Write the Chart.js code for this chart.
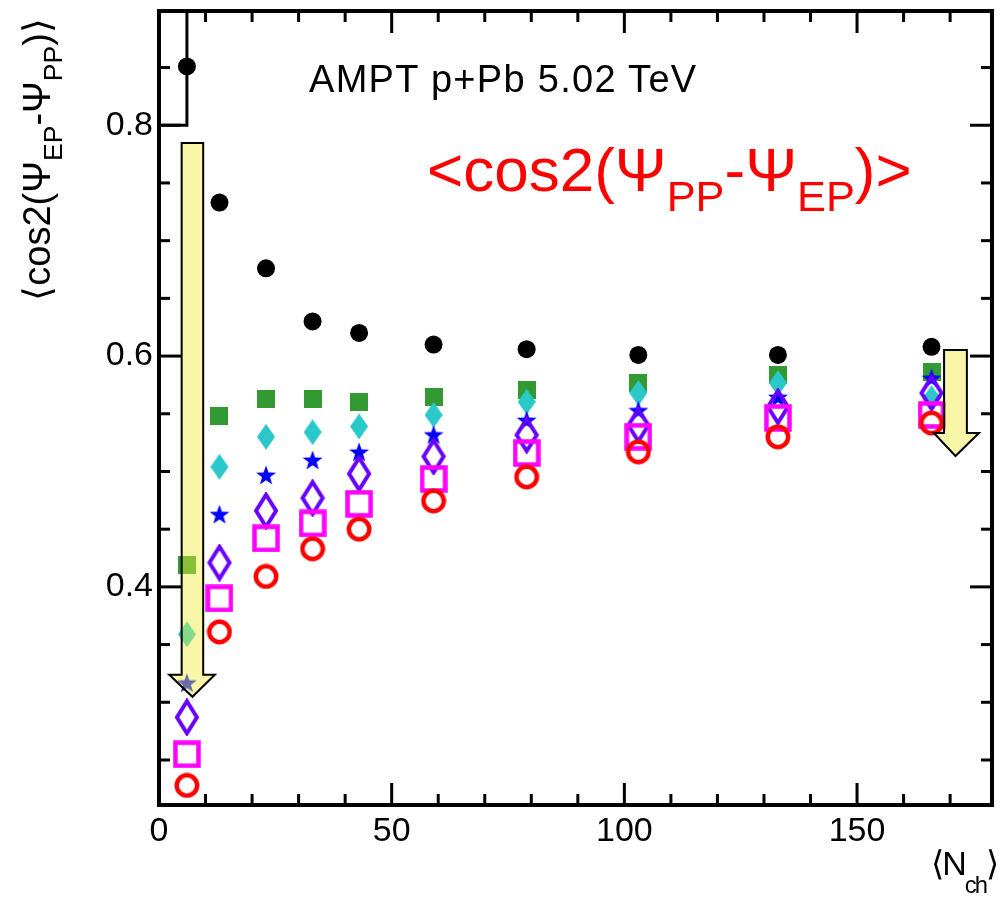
<!DOCTYPE html>
<html>
<head>
<meta charset="utf-8">
<script src="https://cdn.jsdelivr.net/npm/chart.js@4.4.0/dist/chart.umd.min.js"></script>
<style>
  html, body { margin: 0; padding: 0; background: #fff; }
  #wrap { position: relative; width: 1006px; height: 908px; font-family: 'Liberation Sans', Arial, sans-serif; }
  #myChart { position: absolute; left: 0; top: 0; }
  .lbl { position: absolute; white-space: nowrap; line-height: 1; color: #000; }
  .lbl sub { font-size: 0.7em; vertical-align: -0.45em; line-height: 0; }
  #xtitle sub { vertical-align: -0.75em; }
</style>
</head>
<body>
<div id="wrap">
  <canvas id="myChart" width="1006" height="908"></canvas>
  <div class="lbl" style="left:309px; top:60px; font-size:38px; letter-spacing:1.3px;">AMPT p+Pb 5.02 TeV</div>
  <div class="lbl" style="left:427px; top:139px; font-size:62px; color:#ff0000;">&lt;cos2(&Psi;<sub>PP</sub>-&Psi;<sub>EP</sub>)&gt;</div>
  <div class="lbl" style="left:18px; top:418px; width:400px; height:40px; text-align:right; font-size:38px; transform:rotate(-90deg); transform-origin:0 0;">&#10216;cos2(&Psi;<sub>EP</sub>-&Psi;<sub>PP</sub>)&#10217;</div>
  <div class="lbl" id="xtitle" style="left:797px; top:846px; width:200px; text-align:right; font-size:34px; letter-spacing:-2px;">&#10216;N<sub>ch</sub>&#10217;</div>
</div>
<script>
// mean multiplicity of each bin
const nch = [6, 13, 23, 33, 43, 59, 79, 103, 133, 166];

// <cos2(Psi_EP - Psi_PP)> for the different selections
const blackDots = [0.851, 0.733, 0.676, 0.630, 0.620, 0.610, 0.606, 0.601, 0.601, 0.608];
const greenSquares = [0.419, 0.548, 0.563, 0.563, 0.560, 0.5645, 0.5706, 0.5766, 0.5835, 0.586];
const cyanDiamonds = [0.359, 0.504, 0.530, 0.534, 0.539, 0.549, 0.5604, 0.568, 0.5766, 0.5636];
const blueStars = [0.317, 0.463, 0.497, 0.510, 0.517, 0.532, 0.5446, 0.553, 0.5645, 0.581];
const purpleDiamonds = [0.287, 0.421, 0.466, 0.477, 0.498, 0.513, 0.5316, 0.540, 0.556, 0.568];
const magentaSquares = [0.255, 0.390, 0.442, 0.455, 0.472, 0.4935, 0.516, 0.530, 0.5463, 0.549];
const redCircles = [0.228, 0.361, 0.409, 0.433, 0.450, 0.4745, 0.4953, 0.517, 0.530, 0.542];

// outline that runs off the top of the frame for the first black point
const edgeX = [0, 6, 6];
const edgeY = [0.8, 0.8, 0.9];

const xTickLabels = [0, 50, 100, 150];
const yTickLabels = [0.4, 0.6, 0.8];

// yellow arrows, in data units
const arrows = [
  { x0: 4.87, x1: 9.5, top: 0.7847, neck: 0.3238, hx0: 2.2, hx1: 12.0, tip: 0.3048 },
  { x0: 168.7, x1: 173.6, top: 0.6052, neck: 0.5333, hx0: 166.5, hx1: 176.2, tip: 0.5134 }
];

const toXY = ys => nch.map((x, i) => ({ x: x, y: ys[i] }));

function marker(w, h, draw) {
  const c = document.createElement('canvas');
  c.width = w;
  c.height = h;
  draw(c.getContext('2d'), w, h);
  return c;
}

const mGreen = marker(18, 18, (g, w, h) => {
  g.fillStyle = 'rgb(51,153,51)';
  g.fillRect(0, 0, w, h);
});
const mCyan = marker(18, 26, (g, w, h) => {
  g.fillStyle = 'rgb(42,200,200)';
  g.beginPath();
  g.moveTo(w / 2, 0); g.lineTo(w, h / 2); g.lineTo(w / 2, h); g.lineTo(0, h / 2);
  g.closePath();
  g.fill();
});
const mStar = marker(22, 22, (g, w, h) => {
  g.fillStyle = '#0000ff';
  g.beginPath();
  for (let i = 0; i < 10; i++) {
    const r = i % 2 === 0 ? 10.5 : 4.2;
    const a = -Math.PI / 2 + i * Math.PI / 5;
    const px = w / 2 + r * Math.cos(a);
    const py = h / 2 + 1 + r * Math.sin(a);
    if (i === 0) g.moveTo(px, py); else g.lineTo(px, py);
  }
  g.closePath();
  g.fill();
});
const mPurple = marker(26, 38, (g, w, h) => {
  g.strokeStyle = 'rgb(102,0,255)';
  g.lineWidth = 4;
  g.lineJoin = 'miter';
  g.beginPath();
  g.moveTo(w / 2, 3); g.lineTo(w - 3, h / 2); g.lineTo(w / 2, h - 3); g.lineTo(3, h / 2);
  g.closePath();
  g.stroke();
});
const mMagenta = marker(28, 28, (g, w, h) => {
  g.strokeStyle = '#ff00ff';
  g.lineWidth = 4.5;
  g.strokeRect(2.5, 2.5, w - 5, h - 5);
});
const mRed = marker(26, 26, (g, w, h) => {
  g.strokeStyle = '#ff0000';
  g.lineWidth = 4.5;
  g.beginPath();
  g.arc(w / 2, h / 2, 10.2, 0, Math.PI * 2);
  g.stroke();
});

const arrowPlugin = {
  id: 'arrowPlugin',
  afterDatasetsDraw(chart) {
    const { ctx, scales: { x, y } } = chart;
    ctx.save();
    arrows.forEach(a => {
      const cx = x.getPixelForValue((a.x0 + a.x1) / 2);
      ctx.beginPath();
      ctx.moveTo(x.getPixelForValue(a.x0), y.getPixelForValue(a.top));
      ctx.lineTo(x.getPixelForValue(a.x1), y.getPixelForValue(a.top));
      ctx.lineTo(x.getPixelForValue(a.x1), y.getPixelForValue(a.neck));
      ctx.lineTo(x.getPixelForValue(a.hx1), y.getPixelForValue(a.neck));
      ctx.lineTo(cx, y.getPixelForValue(a.tip));
      ctx.lineTo(x.getPixelForValue(a.hx0), y.getPixelForValue(a.neck));
      ctx.lineTo(x.getPixelForValue(a.x0), y.getPixelForValue(a.neck));
      ctx.closePath();
      ctx.fillStyle = 'rgba(238,238,60,0.45)';
      ctx.fill();
      ctx.strokeStyle = '#000';
      ctx.lineWidth = 2;
      ctx.stroke();
    });
    ctx.restore();
  }
};

// frame with inward ticks on all four sides, like the ROOT original
const framePlugin = {
  id: 'framePlugin',
  afterDraw(chart) {
    const { ctx, chartArea: a, scales: { x, y } } = chart;
    ctx.save();
    ctx.strokeStyle = '#000';
    ctx.lineWidth = 3;
    const seg = (x1, y1, x2, y2) => {
      ctx.beginPath();
      ctx.moveTo(x1, y1);
      ctx.lineTo(x2, y2);
      ctx.stroke();
    };
    for (let v = 10; v < x.max; v += 10) {
      const px = x.getPixelForValue(v);
      const len = v % 50 === 0 ? 22 : 11;
      seg(px, a.bottom, px, a.bottom - len);
      seg(px, a.top, px, a.top + len);
    }
    for (let i = 5; i <= 17; i++) {
      const v = i * 0.05;
      const py = y.getPixelForValue(v);
      const len = i % 4 === 0 ? 22 : 11;
      seg(a.left, py, a.left + len, py);
      seg(a.right, py, a.right - len, py);
    }
    ctx.lineWidth = 4;
    ctx.strokeRect(a.left, a.top, a.right - a.left, a.bottom - a.top);
    ctx.restore();
  }
};

const pointSet = (label, ys, style, order) => ({
  type: 'scatter',
  label: label,
  data: toXY(ys),
  pointStyle: style,
  pointRadius: 10,
  order: order
});

const tickFont = { family: "'Liberation Sans', Arial, sans-serif", size: 34 };

// fixed axis sizes, no extra label padding, so the frame sits where the original's does
const fixX = s => { s.height = 103; s.paddingLeft = 0; s.paddingRight = 0; };
const fixY = s => { s.width = 159; s.paddingTop = 0; s.paddingBottom = 0; };

const ctx = document.getElementById('myChart').getContext('2d');
const myChart = new Chart(ctx, {
  type: 'scatter',
  data: {
    datasets: [
      {
        type: 'line',
        label: 'edge',
        data: edgeX.map((x, i) => ({ x: x, y: edgeY[i] })),
        borderColor: '#000',
        borderWidth: 3,
        pointRadius: 0,
        fill: false,
        order: 8
      },
      {
        type: 'scatter',
        label: 'black',
        data: toXY(blackDots),
        pointStyle: 'circle',
        pointRadius: 9,
        backgroundColor: '#000',
        borderWidth: 0,
        order: 7
      },
      pointSet('green', greenSquares, mGreen, 6),
      pointSet('cyan', cyanDiamonds, mCyan, 5),
      pointSet('star', blueStars, mStar, 4),
      pointSet('purple', purpleDiamonds, mPurple, 3),
      pointSet('magenta', magentaSquares, mMagenta, 2),
      pointSet('red', redCircles, mRed, 1)
    ]
  },
  options: {
    responsive: false,
    animation: false,
    layout: { padding: { left: 0, top: 11, right: 14, bottom: 0 } },
    scales: {
      x: {
        type: 'linear',
        min: 0,
        max: 179,
        grid: { display: false, drawTicks: false },
        border: { display: false },
        afterBuildTicks: s => { s.ticks = xTickLabels.map(v => ({ value: v })); },
        afterFit: fixX,
        ticks: { font: tickFont, color: '#000', padding: 6, maxRotation: 0 }
      },
      y: {
        type: 'linear',
        min: 0.211,
        max: 0.899,
        grid: { display: false, drawTicks: false },
        border: { display: false },
        afterBuildTicks: s => { s.ticks = yTickLabels.map(v => ({ value: v })); },
        afterFit: fixY,
        ticks: { font: tickFont, color: '#000', padding: 6, callback: v => v.toFixed(1) }
      }
    },
    plugins: {
      legend: { display: false },
      tooltip: { enabled: false }
    }
  },
  plugins: [arrowPlugin, framePlugin]
});
</script>
</body>
</html>
